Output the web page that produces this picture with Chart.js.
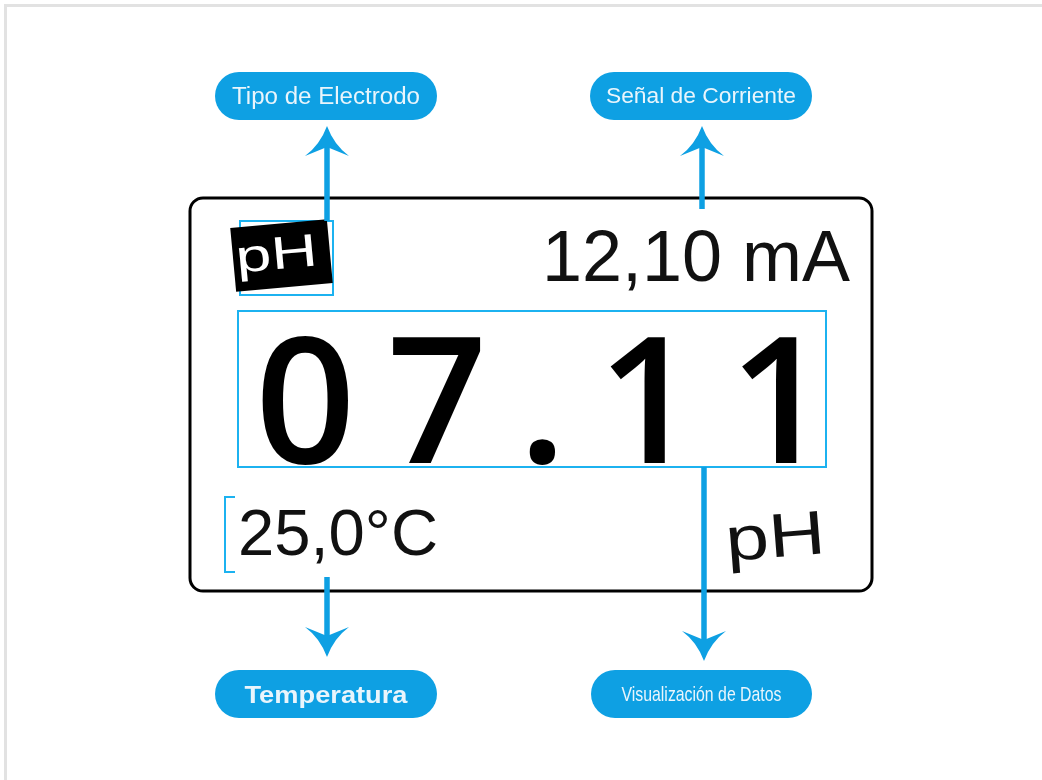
<!DOCTYPE html>
<html lang="es">
<head>
<meta charset="utf-8">
<title>Pantalla del transmisor de pH</title>
<script src="https://cdn.jsdelivr.net/npm/chart.js@4.4.1/dist/chart.umd.min.js"></script>
<style>
  html, body { margin: 0; padding: 0; background: #fff; }
  #diagram { display: block; }
</style>
</head>
<body>
<canvas id="diagram" width="1042" height="780"></canvas>
<script>
// textos del diagrama
const calloutLabels = ['Tipo de Electrodo', 'Señal de Corriente', 'Temperatura', 'Visualización de Datos'];
const electrodeType = ['pH'];
const currentSignal = ['12,10 mA'];
const mainValue = ['0', '7', '.', '1', '1'];
const temperature = ['25,0°C'];
const unitLabel = ['pH'];

const BLUE = '#0ea0e3';
const CYAN = '#1cb2f0';
const SANS = '"Liberation Sans", Arial, sans-serif';

// texto ajustado a un ancho dado (el original viene estirado)
function fitText(ctx, txt, x0, base, width, font, color, align, angle) {
    ctx.save();
    ctx.font = font;
    const w = ctx.measureText(txt).width;
    ctx.translate(x0, base);
    ctx.rotate((angle || 0) * Math.PI / 180);
    ctx.scale(width / w, 1);
    ctx.textAlign = align || 'left';
    ctx.textBaseline = 'alphabetic';
    ctx.fillStyle = color;
    ctx.fillText(txt, 0, 0);
    ctx.restore();
}

function arrow(ctx, X, Y, cx, y0, tip, up) {
    const d = up ? 1 : -1;
    ctx.save();
    ctx.strokeStyle = BLUE;
    ctx.fillStyle = BLUE;
    ctx.lineWidth = 5.5;
    ctx.beginPath();
    ctx.moveTo(X(cx), Y(y0));
    ctx.lineTo(X(cx), Y(tip + 20 * d));
    ctx.stroke();
    ctx.beginPath();
    ctx.moveTo(X(cx), Y(tip));
    ctx.quadraticCurveTo(X(cx - 7), Y(tip + 19 * d), X(cx - 22), Y(tip + 30 * d));
    ctx.lineTo(X(cx), Y(tip + 21 * d));
    ctx.lineTo(X(cx + 22), Y(tip + 30 * d));
    ctx.quadraticCurveTo(X(cx + 7), Y(tip + 19 * d), X(cx), Y(tip));
    ctx.closePath();
    ctx.fill();
    ctx.restore();
}

function pill(ctx, X, Y, x0, y0, x1, y1, label, base, textW, font) {
    ctx.save();
    ctx.fillStyle = BLUE;
    ctx.beginPath();
    ctx.roundRect(X(x0), Y(y0), X(x1) - X(x0), Y(y1) - Y(y0), 24);
    ctx.fill();
    ctx.restore();
    fitText(ctx, label, X((x0 + x1) / 2), Y(base), textW, font, '#e9f5fc', 'center');
}

const displayPlugin = {
    id: 'phDisplay',
    beforeDraw(chart) {
        const ctx = chart.ctx;
        ctx.save();
        ctx.fillStyle = '#ffffff';
        ctx.fillRect(0, 0, chart.width, chart.height);
        ctx.restore();
    },
    afterDraw(chart) {
        const { ctx, scales: { x, y } } = chart;
        const X = v => x.getPixelForValue(v);
        const Y = v => y.getPixelForValue(v);

        // marco gris de la lámina
        ctx.save();
        ctx.strokeStyle = '#e2e2e2';
        ctx.lineWidth = 3;
        ctx.beginPath();
        ctx.moveTo(X(5.5), Y(780));
        ctx.lineTo(X(5.5), Y(5.5));
        ctx.lineTo(X(1042), Y(5.5));
        ctx.stroke();

        // pantalla
        ctx.strokeStyle = '#000';
        ctx.lineWidth = 3;
        ctx.beginPath();
        ctx.roundRect(X(190), Y(198), X(872) - X(190), Y(591) - Y(198), 13);
        ctx.stroke();

        // recuadros azules
        ctx.strokeStyle = CYAN;
        ctx.lineWidth = 2;
        ctx.strokeRect(X(238), Y(311), X(826) - X(238), Y(467) - Y(311));
        ctx.strokeRect(X(240), Y(221), X(333) - X(240), Y(295) - Y(221));
        ctx.beginPath();
        ctx.moveTo(X(235), Y(497));
        ctx.lineTo(X(225), Y(497));
        ctx.lineTo(X(225), Y(572));
        ctx.lineTo(X(235), Y(572));
        ctx.stroke();

        // bloque negro del electrodo
        ctx.translate(X(281.5), Y(255.5));
        ctx.rotate(-5.3 * Math.PI / 180);
        ctx.fillStyle = '#000';
        ctx.fillRect(-48.5, -32, 97, 64);
        ctx.restore();
        ctx.save();
        ctx.translate(X(281.5), Y(255.5));
        ctx.rotate(-5.3 * Math.PI / 180);
        fitText(ctx, electrodeType[0], -5, 13, 82, '46px ' + SANS, '#fff', 'center');
        ctx.restore();

        // lecturas
        fitText(ctx, currentSignal[0], X(850), Y(281), 308, '72px ' + SANS, '#111', 'right');
        fitText(ctx, temperature[0], X(238), Y(555), 200, '65px ' + SANS, '#111', 'left');
        fitText(ctx, unitLabel[0], X(727), Y(561), 100, '62px ' + SANS, '#111', 'left', -4.5);

        // valor principal, con espaciado entre caracteres
        ctx.save();
        ctx.font = '600 176px "Open Sans", "Noto Sans", sans-serif';
        ctx.fillStyle = '#000';
        ctx.textBaseline = 'alphabetic';
        let cx = X(255);
        mainValue.forEach(ch => {
            ctx.fillText(ch, cx, Y(463));
            cx += ctx.measureText(ch).width + 31;
        });
        ctx.restore();

        // flechas
        arrow(ctx, X, Y, 327, 221, 126, true);
        arrow(ctx, X, Y, 702, 209, 126, true);
        arrow(ctx, X, Y, 327, 577, 657, false);
        arrow(ctx, X, Y, 704, 467, 661, false);

        // etiquetas
        pill(ctx, X, Y, 215, 72, 437, 120, calloutLabels[0], 104, 188, '23px ' + SANS);
        pill(ctx, X, Y, 590, 72, 812, 120, calloutLabels[1], 103, 190, '22px ' + SANS);
        pill(ctx, X, Y, 215, 670, 437, 718, calloutLabels[2], 703, 163, 'bold 23px ' + SANS);
        pill(ctx, X, Y, 591, 670, 812, 718, calloutLabels[3], 701, 160, '21px ' + SANS);
    }
};

new Chart(document.getElementById('diagram'), {
    type: 'scatter',
    data: { datasets: [{ data: [], pointRadius: 0 }] },
    options: {
        responsive: false,
        animation: false,
        layout: { padding: 0 },
        plugins: { legend: { display: false }, tooltip: { enabled: false } },
        scales: {
            x: { type: 'linear', min: 0, max: 1042, display: false },
            y: { type: 'linear', min: 0, max: 780, reverse: true, display: false }
        }
    },
    plugins: [displayPlugin]
});
</script>
</body>
</html>
